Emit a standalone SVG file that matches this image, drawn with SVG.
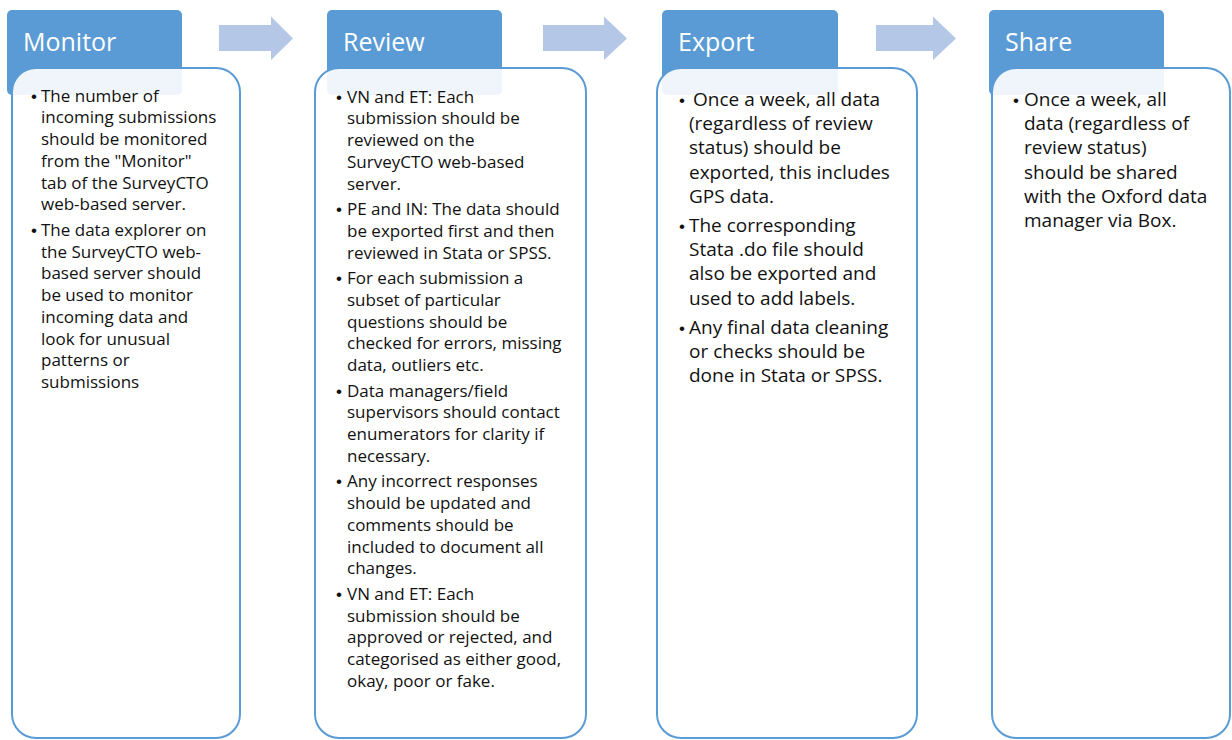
<svg xmlns="http://www.w3.org/2000/svg" width="1232" height="740" viewBox="0 0 1232 740">
<style>
.hdr{fill:#5B9BD5}
.body{fill:#FFFFFF;fill-opacity:0.9;stroke:#5B9BD5;stroke-width:2}
.arrow{fill:#B4C7E7}
.ttl{font-family:"Open Sans","Liberation Sans",sans-serif;font-size:25px;fill:#FFFFFF}
.s{font-family:"Open Sans","Liberation Sans",sans-serif;font-size:17px;fill:#111111}
.l{font-family:"Open Sans","Liberation Sans",sans-serif;font-size:19px;fill:#111111}
.b{font-family:"Liberation Sans",Arial,sans-serif;font-size:17px;fill:#111111}
</style>
<rect width="1232" height="740" fill="#FFFFFF"/>
<g id="connectors">
<polygon class="arrow" points="219,25 271,25 271,16.5 293,38.5 271,60 271,51 219,51"/>
<polygon class="arrow" points="543,25 604,25 604,16.5 627,38.5 604,60 604,51 543,51"/>
<polygon class="arrow" points="876,25 933,25 933,16.5 956,38.5 933,60 933,51 876,51"/>
</g>
<g id="monitor">
<rect class="hdr" x="7" y="10" width="175" height="85" rx="5"/>
<text class="ttl" x="23" y="51">Monitor</text>
<rect class="body" x="12" y="68" width="228" height="670" rx="24"/>
<text class="b" x="31" y="101.5">•</text>
<text class="s" x="41" y="101.5">The number of</text>
<text class="s" x="41" y="123.25">incoming submissions</text>
<text class="s" x="41" y="145">should be monitored</text>
<text class="s" x="41" y="166.75">from the "Monitor"</text>
<text class="s" x="41" y="188.5">tab of the SurveyCTO</text>
<text class="s" x="41" y="210.25">web-based server.</text>
<text class="b" x="31" y="235.75">•</text>
<text class="s" x="41" y="235.75">The data explorer on</text>
<text class="s" x="41" y="257.5">the SurveyCTO web-</text>
<text class="s" x="41" y="279.25">based server should</text>
<text class="s" x="41" y="301">be used to monitor</text>
<text class="s" x="41" y="322.75">incoming data and</text>
<text class="s" x="41" y="344.5">look for unusual</text>
<text class="s" x="41" y="366.25">patterns or</text>
<text class="s" x="41" y="388">submissions</text>
</g>
<g id="review">
<rect class="hdr" x="327" y="10" width="175" height="85" rx="5"/>
<text class="ttl" x="343" y="51">Review</text>
<rect class="body" x="315" y="68" width="271" height="670" rx="24"/>
<text class="b" x="336" y="102.5">•</text>
<text class="s" x="347" y="102.5">VN and ET: Each</text>
<text class="s" x="347" y="124.25">submission should be</text>
<text class="s" x="347" y="146">reviewed on the</text>
<text class="s" x="347" y="167.75">SurveyCTO web-based</text>
<text class="s" x="347" y="189.5">server.</text>
<text class="b" x="336" y="215">•</text>
<text class="s" x="347" y="215">PE and IN: The data should</text>
<text class="s" x="347" y="236.75">be exported first and then</text>
<text class="s" x="347" y="258.5">reviewed in Stata or SPSS.</text>
<text class="b" x="336" y="284">•</text>
<text class="s" x="347" y="284">For each submission a</text>
<text class="s" x="347" y="305.75">subset of particular</text>
<text class="s" x="347" y="327.5">questions should be</text>
<text class="s" x="347" y="349.25">checked for errors, missing</text>
<text class="s" x="347" y="371">data, outliers etc.</text>
<text class="b" x="336" y="396.5">•</text>
<text class="s" x="347" y="396.5">Data managers/field</text>
<text class="s" x="347" y="418.25">supervisors should contact</text>
<text class="s" x="347" y="440">enumerators for clarity if</text>
<text class="s" x="347" y="461.75">necessary.</text>
<text class="b" x="336" y="487.25">•</text>
<text class="s" x="347" y="487.25">Any incorrect responses</text>
<text class="s" x="347" y="509">should be updated and</text>
<text class="s" x="347" y="530.75">comments should be</text>
<text class="s" x="347" y="552.5">included to document all</text>
<text class="s" x="347" y="574.25">changes.</text>
<text class="b" x="336" y="599.75">•</text>
<text class="s" x="347" y="599.75">VN and ET: Each</text>
<text class="s" x="347" y="621.5">submission should be</text>
<text class="s" x="347" y="643.25">approved or rejected, and</text>
<text class="s" x="347" y="665">categorised as either good,</text>
<text class="s" x="347" y="686.75">okay, poor or fake.</text>
</g>
<g id="export">
<rect class="hdr" x="662" y="10" width="176" height="85" rx="5"/>
<text class="ttl" x="678" y="51">Export</text>
<rect class="body" x="657" y="68" width="260" height="670" rx="24"/>
<text class="b" x="679" y="106">•</text>
<text class="l" x="693" y="106">Once a week, all data</text>
<text class="l" x="689" y="130.2">(regardless of review</text>
<text class="l" x="689" y="154.4">status) should be</text>
<text class="l" x="689" y="178.6">exported, this includes</text>
<text class="l" x="689" y="202.8">GPS data.</text>
<text class="b" x="679" y="232">•</text>
<text class="l" x="689" y="232">The corresponding</text>
<text class="l" x="689" y="256.2">Stata .do file should</text>
<text class="l" x="689" y="280.4">also be exported and</text>
<text class="l" x="689" y="304.6">used to add labels.</text>
<text class="b" x="679" y="334">•</text>
<text class="l" x="689" y="334">Any final data cleaning</text>
<text class="l" x="689" y="358.2">or checks should be</text>
<text class="l" x="689" y="382.4">done in Stata or SPSS.</text>
</g>
<g id="share">
<rect class="hdr" x="989" y="10" width="175" height="85" rx="5"/>
<text class="ttl" x="1005" y="51">Share</text>
<rect class="body" x="992" y="68" width="238" height="670" rx="24"/>
<text class="b" x="1013" y="106">•</text>
<text class="l" x="1024" y="106">Once a week, all</text>
<text class="l" x="1024" y="130.2">data (regardless of</text>
<text class="l" x="1024" y="154.4">review status)</text>
<text class="l" x="1024" y="178.6">should be shared</text>
<text class="l" x="1024" y="202.8">with the Oxford data</text>
<text class="l" x="1024" y="227">manager via Box.</text>
</g>
</svg>
